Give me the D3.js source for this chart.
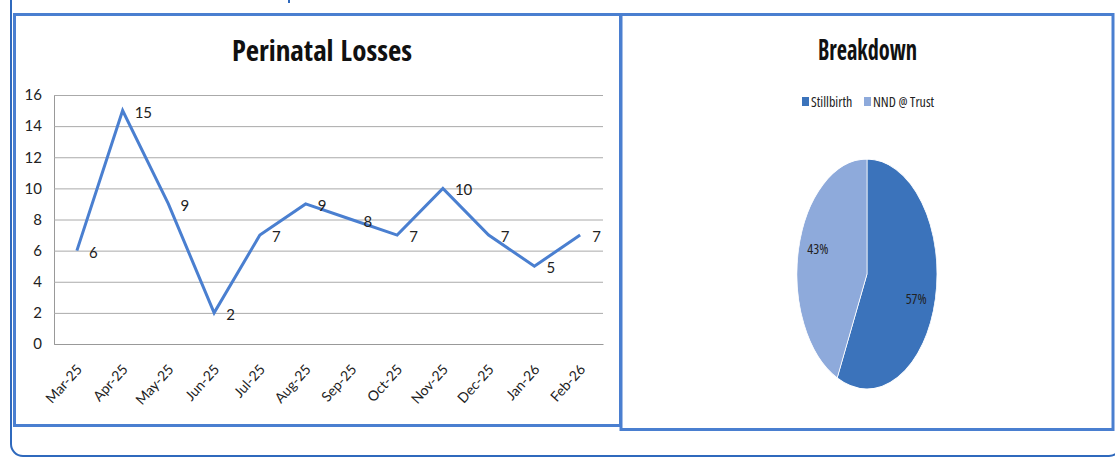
<!DOCTYPE html>
<html><head><meta charset="utf-8">
<script src="https://cdn.jsdelivr.net/npm/d3@7"></script>
<style>body{margin:0;background:#fff}svg{display:block}
text{font-family:Lato,"Open Sans",sans-serif;font-weight:normal}
text.narrow{font-family:"Open Sans",sans-serif;font-stretch:75%}
text.title{font-family:"Open Sans Condensed","Open Sans",sans-serif;font-weight:bold}</style>
</head><body><svg id="c" width="1115" height="462"></svg>
<script>
const months = ["Mar-25","Apr-25","May-25","Jun-25","Jul-25","Aug-25","Sep-25","Oct-25","Nov-25","Dec-25","Jan-26","Feb-26"];
const losses = [6,15,9,2,7,9,8,7,10,7,5,7];
const yTicks = [0,2,4,6,8,10,12,14,16];
const pieLabels = ["Stillbirth","NND @ Trust"];
const pieValues = [57,43];
const pieColors = ["#3b73bb","#8eaadb"];

const svg = d3.select("#c");
const blue = "#4a7fd0";

svg.append("rect").attr("x",11).attr("y",-30).attr("width",1110).attr("height",486).attr("rx",12)
  .attr("fill","none").attr("stroke","#2f69bd").attr("stroke-width",2);
svg.append("line").attr("x1",289).attr("x2",289).attr("y1",0).attr("y2",3).attr("stroke","#2f69bd").attr("stroke-width",2);
svg.append("rect").attr("x",14.5).attr("y",14.5).attr("width",606).attr("height",411)
  .attr("fill","#fff").attr("stroke",blue).attr("stroke-width",3);
svg.append("rect").attr("x",621).attr("y",14.5).attr("width",492).attr("height",415)
  .attr("fill","#fff").attr("stroke",blue).attr("stroke-width",3);

const x = d3.scaleBand().domain(months).range([54,603]);
const y = d3.scaleLinear().domain([0,16]).range([344,95]);

svg.append("text").attr("class","title").attr("x",322).attr("y",61).attr("text-anchor","middle")
  .attr("font-size",28).attr("fill","#111").attr("textLength",180).attr("lengthAdjust","spacingAndGlyphs")
  .text("Perinatal Losses");

const yAxis = svg.append("g").attr("transform","translate(54,0)")
  .call(d3.axisLeft(y).tickValues(yTicks).tickSize(-549).tickPadding(12));
yAxis.select(".domain").attr("stroke","#999");
yAxis.selectAll(".tick line").attr("stroke","#aaa");
yAxis.selectAll(".tick text").attr("font-size",15).attr("fill","#222");

const xAxis = svg.append("g").attr("transform","translate(0,344)")
  .call(d3.axisBottom(x).tickSize(0).tickPadding(0));
xAxis.select(".domain").attr("stroke","#999");
xAxis.selectAll(".tick text").attr("font-size",14).attr("fill","#222")
  .attr("text-anchor","end").attr("dy",0).attr("y",0)
  .attr("transform","translate(6,26) rotate(-48)");

const line = d3.line().x((d,i)=>x(months[i])+x.bandwidth()/2).y(d=>y(d));
svg.append("path").datum(losses).attr("d",line).attr("fill","none")
  .attr("stroke",blue).attr("stroke-width",3);
svg.selectAll("text.dl").data(losses).enter().append("text").attr("class","dl")
  .attr("x",(d,i)=>x(months[i])+x.bandwidth()/2+12).attr("y",d=>y(d)+7)
  .attr("font-size",15).attr("fill","#222").text(d=>d);

svg.append("text").attr("class","title").attr("x",867.5).attr("y",60).attr("text-anchor","middle")
  .attr("font-size",28).attr("fill","#111").attr("textLength",99).attr("lengthAdjust","spacingAndGlyphs")
  .text("Breakdown");

const lg = svg.append("g");
const lx = [802,864];
pieLabels.forEach((l,i)=>{
  lg.append("rect").attr("x",lx[i]).attr("y",97).attr("width",7).attr("height",9).attr("fill",pieColors[i]);
  lg.append("text").attr("class","narrow").attr("x",lx[i]+9).attr("y",107).attr("font-size",14).attr("fill","#222").text(l);
});

const rx = 70, ry = 115, cx = 867, cy = 274;
const pie = d3.pie().sort(null)(pieValues);
const arc = d3.arc().innerRadius(0).outerRadius(1);
const pg = svg.append("g").attr("transform",`translate(${cx},${cy}) scale(${rx},${ry})`);
pg.selectAll("path").data(pie).enter().append("path").attr("d",arc)
  .attr("fill",(d,i)=>pieColors[i]).attr("stroke","#fff").attr("stroke-width",0.01);
const total = d3.sum(pieValues);
const lab = d3.arc().innerRadius(0.72).outerRadius(0.72);
svg.selectAll("text.pl").data(pie).enter().append("text").attr("class","narrow")
  .attr("x",d=>cx+lab.centroid(d)[0]*rx).attr("y",d=>cy+lab.centroid(d)[1]*ry*1.4+5)
  .attr("text-anchor","middle").attr("font-size",14).attr("fill","#222")
  .text(d=>Math.round(d.data/total*100)+"%");
</script></body></html>
